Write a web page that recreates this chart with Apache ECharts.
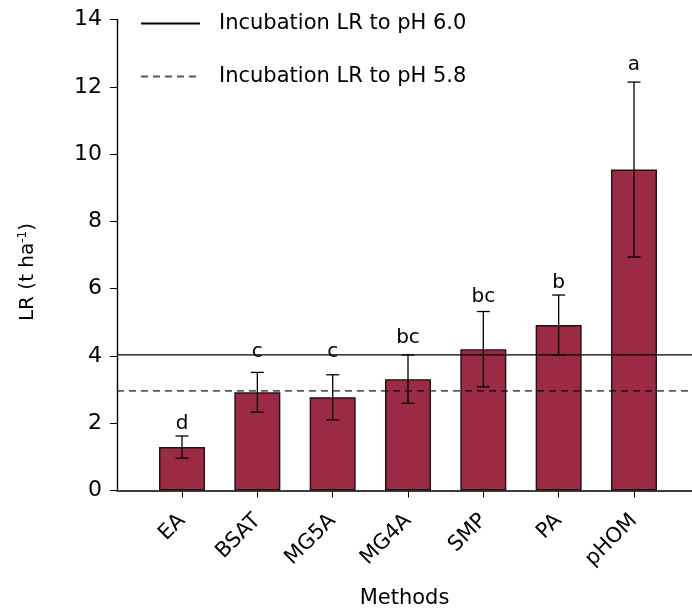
<!DOCTYPE html>
<html>
<head>
<meta charset="utf-8">
<script src="https://cdn.jsdelivr.net/npm/echarts@6/dist/echarts.min.js"></script>
<style>
  html, body { margin: 0; padding: 0; background: #fff; }
  #main { width: 692px; height: 610px; }
</style>
</head>
<body>
<div id="main"></div>
<script>
// data
const methods = ['EA', 'BSAT', 'MG5A', 'MG4A', 'SMP', 'PA', 'pHOM'];
const lrMean = [1.29, 2.92, 2.77, 3.31, 4.20, 4.92, 9.54];
const lrSd = [0.33, 0.59, 0.67, 0.72, 1.12, 0.89, 2.60];
const letters = ['d', 'c', 'c', 'bc', 'bc', 'b', 'a'];
const letterY = [1.82, 3.98, 3.98, 4.38, 5.62, 6.03, 12.51];
const incub60 = 4.03;
const incub58 = 2.96;

const xMin = -0.863, xMax = 6.77;
const font = 'DejaVu Sans';

const chart = echarts.init(document.getElementById('main'), null, { renderer: 'canvas' });

const barData = methods.map((m, i) => [i, lrMean[i]]);
const errData = methods.map((m, i) => [i, lrMean[i] - lrSd[i], lrMean[i] + lrSd[i], letterY[i]]);

var option = {
  animation: false,
  textStyle: { fontFamily: font, color: '#000' },
  grid: { left: 117, right: 0, top: 19.5, bottom: 119.5, containLabel: false, outerBoundsMode: 'none' },
  legend: {
    orient: 'vertical',
    left: 135,
    top: 8,
    itemWidth: 59,
    itemHeight: 14,
    itemGap: 32,
    itemStyle: { color: 'rgba(0,0,0,0)', borderWidth: 0 },
    textStyle: { fontSize: 21, fontFamily: font, color: '#000', padding: [0, 0, 0, 14] },
    data: ['Incubation LR to pH 6.0', 'Incubation LR to pH 5.8']
  },
  xAxis: {
    type: 'value',
    min: xMin,
    max: xMax,
    name: 'Methods',
    nameLocation: 'middle',
    nameGap: 98,
    nameTextStyle: { fontSize: 21, fontFamily: font, color: '#000' },
    axisLine: { show: true, onZero: false, lineStyle: { color: '#000', width: 1.6 } },
    axisTick: { show: true, length: 7, customValues: [0, 1, 2, 3, 4, 5, 6], lineStyle: { color: '#000', width: 1 } },
    axisLabel: {
      customValues: [0, 1, 2, 3, 4, 5, 6],
      rotate: 45,
      margin: 27,
      fontSize: 21,
      fontFamily: font,
      color: '#000',
      formatter: v => methods[Math.round(v)]
    },
    splitLine: { show: false }
  },
  yAxis: {
    type: 'value',
    min: 0,
    max: 14,
    interval: 2,
    name: 'LR (t ha{sup|-1})',
    nameLocation: 'middle',
    nameRotate: 90,
    nameGap: 78,
    nameTextStyle: {
      fontSize: 20, fontFamily: font, color: '#000',
      padding: [0, 34, 0, 0],
      rich: { sup: { fontSize: 12, fontFamily: font, color: '#000', padding: [0, 0, 10, 0] } }
    },
    axisLine: { show: true, onZero: false, lineStyle: { color: '#000', width: 1.4 } },
    axisTick: { show: true, length: 7, lineStyle: { color: '#000', width: 1 } },
    axisLabel: { fontSize: 22, fontFamily: font, color: '#000', margin: 15 },
    splitLine: { show: false }
  },
  series: [
    {
      name: 'LR',
      type: 'bar',
      data: barData,
      barWidth: 46,
      itemStyle: { color: '#9b2a43', borderColor: '#1e1215', borderWidth: 1.4 },
      z: 2
    },
    {
      name: 'Incubation LR to pH 6.0',
      type: 'line',
      data: [[xMin, incub60], [xMax, incub60]],
      symbol: 'none',
      itemStyle: { color: 'rgba(0,0,0,0)' },
      lineStyle: { color: '#000', width: 1.2, type: 'solid' },
      z: 3
    },
    {
      name: 'Incubation LR to pH 5.8',
      type: 'line',
      data: [[xMin, incub58], [xMax, incub58]],
      symbol: 'none',
      itemStyle: { color: 'rgba(0,0,0,0)' },
      lineStyle: { color: 'rgba(0,0,0,0.65)', width: 1.8, type: [7, 5] },
      z: 3
    },
    {
      name: 'sd',
      type: 'custom',
      data: errData,
      z: 4,
      renderItem: function (params, api) {
        const x = api.value(0);
        const top = api.coord([x, api.value(2)]);
        const bot = api.coord([x, api.value(1)]);
        const lab = api.coord([x, api.value(3)]);
        const cw = 6.5;
        const st = { stroke: '#000', lineWidth: 1.3 };
        return {
          type: 'group',
          children: [
            { type: 'line', shape: { x1: top[0], y1: top[1], x2: bot[0], y2: bot[1] }, style: st },
            { type: 'line', shape: { x1: top[0] - cw, y1: top[1], x2: top[0] + cw, y2: top[1] }, style: st },
            { type: 'line', shape: { x1: bot[0] - cw, y1: bot[1], x2: bot[0] + cw, y2: bot[1] }, style: st },
            {
              type: 'text',
              x: lab[0],
              y: lab[1] + 5,
              style: {
                text: letters[params.dataIndex],
                align: 'center',
                verticalAlign: 'bottom',
                fontSize: 20,
                fontFamily: font,
                fill: '#000'
              }
            }
          ]
        };
      }
    }
  ]
};

chart.setOption(option);
</script>
</body>
</html>
